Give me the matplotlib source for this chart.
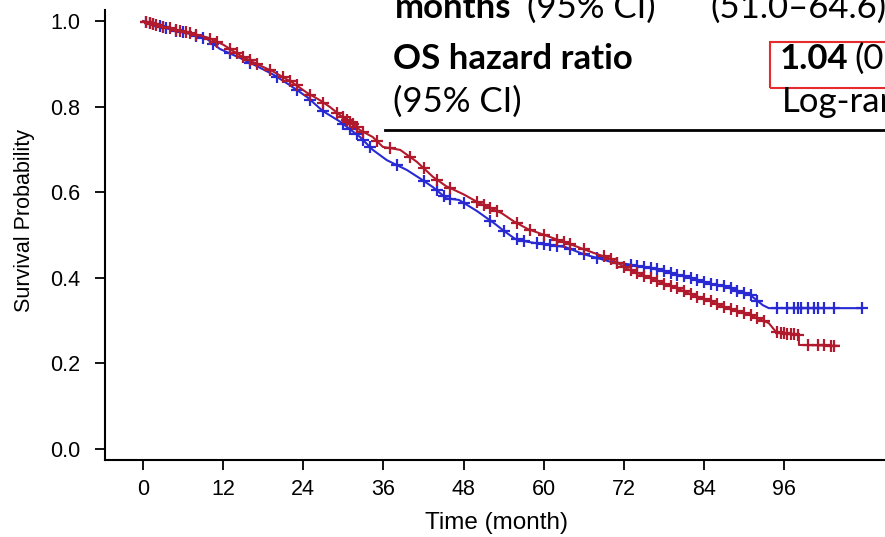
import numpy as np
import matplotlib.pyplot as plt
from matplotlib.patches import Rectangle

# ----------------------------
# DATA
# ----------------------------
blue_t = [0, 2, 4.5, 7, 9.6, 11.5, 14.5, 17, 19.5, 22, 24.6, 26.9, 29.5, 32.5, 34.4,
          36.5, 39.5, 41.5, 43.4, 45.4, 47.3, 50, 52.7, 54, 55.7, 57.6, 60, 63.2, 66,
          70.1, 72.5, 75, 77.5, 80, 82.5, 84.9, 87, 88.8, 90.9, 92.8, 93.7, 107.6]
blue_s = [1.0, 0.99, 0.979, 0.97, 0.958, 0.935, 0.914, 0.895, 0.875, 0.85, 0.822, 0.79,
          0.765, 0.729, 0.699, 0.675, 0.652, 0.632, 0.612, 0.586, 0.582, 0.556, 0.526,
          0.51, 0.491, 0.484, 0.478, 0.472, 0.455, 0.437, 0.432, 0.425, 0.418, 0.407,
          0.398, 0.386, 0.38, 0.371, 0.36, 0.336, 0.329, 0.329]

red_t = [0, 2, 4.5, 7, 9.6, 12, 14.5, 17, 19.5, 22.5, 24.6, 26.5, 28, 29.5, 31, 32.5,
         34.4, 35.9, 38.5, 41, 43.4, 45.4, 48, 50.3, 53.7, 55.5, 57.6, 61.7, 65.1, 67.5,
         70.1, 72.5, 75, 77.4, 80, 82.3, 85, 87.4, 90.9, 93.7, 94.8, 98.2, 98.21, 104.2]
red_s = [1.0, 0.99, 0.981, 0.972, 0.962, 0.945, 0.92, 0.9, 0.882, 0.855, 0.832, 0.815,
         0.799, 0.78, 0.765, 0.745, 0.729, 0.706, 0.699, 0.671, 0.636, 0.614, 0.595,
         0.575, 0.551, 0.532, 0.514, 0.491, 0.472, 0.458, 0.444, 0.421, 0.405, 0.39,
         0.375, 0.36, 0.345, 0.329, 0.313, 0.294, 0.273, 0.266, 0.243, 0.241]

# censoring times
blue_cens = [0.5, 1, 1.5, 2.5, 3, 3.5, 5, 6, 8, 9, 10.5, 13, 16, 20, 23, 25, 27, 30, 31,
             32, 33, 34, 38, 42, 44, 45, 46, 48, 52, 54, 56, 57, 59, 60, 61, 62, 64, 66,
             68, 71, 73, 74, 75, 76, 77, 78, 79, 80, 81, 82, 83, 84, 85, 86, 87, 88, 89,
             90, 91, 92, 95, 96.5, 97.5, 98, 98.5, 99.5, 100.5, 101, 102, 103.5, 107.6]
red_cens = [0.5, 1, 1.5, 2, 3, 4, 5, 5.5, 6.5, 7, 8, 10, 11, 13, 14, 15, 16, 17, 19, 21,
            22, 23, 25, 27, 29, 30, 30.5, 31, 31.5, 32, 33, 35, 37, 40, 42, 44, 46, 50,
            51, 52, 53, 56, 58, 60, 62, 63, 64, 66, 69, 70, 71, 72, 73, 74, 75, 76, 77,
            78, 79, 80, 81, 82, 83, 84, 85, 86, 87, 88, 89, 90, 91, 92, 93, 95, 95.5, 96,
            96.5, 97, 97.5, 98, 99.5, 101, 102, 103, 103.5]

x_ticks = [0, 12, 24, 36, 48, 60, 72, 84, 96]
y_ticks = [0.0, 0.2, 0.4, 0.6, 0.8, 1.0]

BLUE = '#2a2ad2'
RED = '#b01a2c'

# ----------------------------
# FIGURE
# ----------------------------
W, H = 885, 537
fig = plt.figure(figsize=(W / 100, H / 100), dpi=100)
ax = fig.add_axes([105 / W, 1 - 460 / H, 1 - 105 / W, 450 / H])

for t, s, cens, col in [(blue_t, blue_s, blue_cens, BLUE), (red_t, red_s, red_cens, RED)]:
    ax.plot(t, s, color=col, lw=1.5)
    ax.plot(cens, np.interp(cens, t, s), ls='none', marker='+', ms=8, mew=1.6, color=col)

ax.set_xlim(-5.7, 111.1)
ax.set_ylim(-0.026, 1.026)
ax.set_xticks(x_ticks)
ax.set_yticks(y_ticks)
ax.set_yticklabels([f"{v:.1f}" for v in y_ticks])
ax.spines['top'].set_visible(False)
ax.spines['right'].set_visible(False)
for sp in ['left', 'bottom']:
    ax.spines[sp].set_linewidth(1.5)
ax.tick_params(axis='both', direction='out', length=7, width=1.3, labelsize=15.5)
ax.tick_params(axis='y', pad=11)
ax.tick_params(axis='x', pad=7)
for lab in ax.get_xticklabels() + ax.get_yticklabels():
    lab.set_fontfamily('Liberation Sans')

fig.text(497 / W, 1 - 523 / H, "Time (month)", ha='center', va='center',
         fontsize=17.5, family='Liberation Sans')
fig.text(25 / W, 1 - 220 / H, "Survival Probability", ha='center', va='center',
         rotation=90, fontsize=15.5, family='Liberation Sans')

# ----------------------------
# TABLE OVERLAY (cropped slide table)
# ----------------------------
tf = 'Lato'
fs = 25
def px(x, y):
    return x / W, 1 - y / H

fig.text(*px(395, 18), "months", fontsize=fs, weight='bold', family=tf, va='baseline')
fig.text(*px(527, 18), "(95% CI)", fontsize=fs, family=tf, va='baseline')
fig.text(*px(710, 18), "(51.0\u201364.6)", fontsize=fs, family=tf, va='baseline')
fig.text(*px(393, 69), "OS hazard ratio", fontsize=fs, weight='bold', family=tf, va='baseline')
fig.text(*px(393, 112), "(95% CI)", fontsize=fs, family=tf, va='baseline')
fig.text(*px(780, 69), "1.04", fontsize=fs, weight='bold', family=tf, va='baseline')
fig.text(*px(854, 69), "(0", fontsize=fs, family=tf, va='baseline')
fig.text(*px(782, 112), "Log-ran", fontsize=fs, family=tf, va='baseline')
fig.add_artist(Rectangle(px(770, 88), 130 / W, 46 / H, transform=fig.transFigure,
                         fill=False, edgecolor='#e52b2b', lw=1.5))
fig.add_artist(plt.Line2D([385 / W, 1.0], [1 - 130 / H] * 2, transform=fig.transFigure,
                          color='black', lw=2))

fig.savefig("out.png", dpi=100)
